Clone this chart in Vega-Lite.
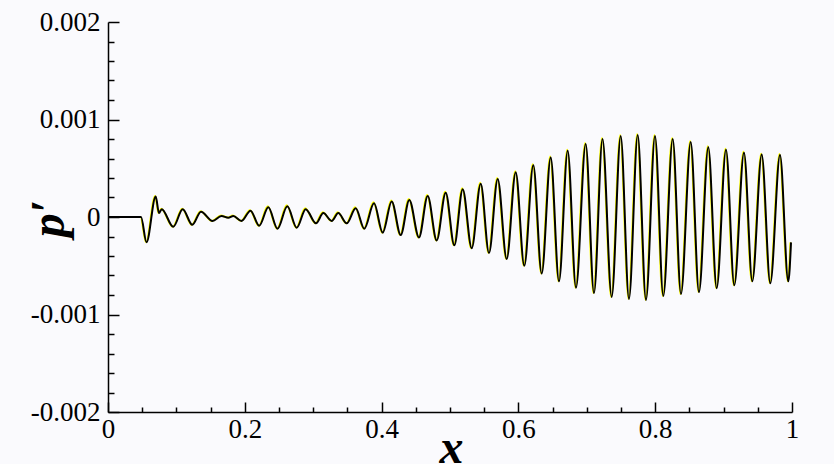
{
  "$schema": "https://vega.github.io/schema/vega-lite/v6.json",
  "autosize": {"type": "none"},
  "width": 684,
  "height": 390,
  "padding": {"left": 108, "top": 22, "right": 42, "bottom": 52},
  "background": "#fafafd",
  "config": {"view": {"stroke": null}},
  "datasets": {
    "yellow": [
      {"x": 0, "p": 0}, {"x": 0.0475, "p": 0}, {"x": 0.0555, "p": -0.00026}, {"x": 0.0689, "p": 0.000215},
      {"x": 0.0738, "p": 0.00004}, {"x": 0.0777, "p": 0.000085}, {"x": 0.0947, "p": -0.0001}, {"x": 0.1084, "p": 0.000085},
      {"x": 0.1225, "p": -0.00008}, {"x": 0.1352, "p": 0.00006}, {"x": 0.1520, "p": -0.00004}, {"x": 0.1651, "p": 0.000015},
      {"x": 0.1751, "p": -0.000005}, {"x": 0.1824, "p": 0.000015}, {"x": 0.1944, "p": -0.00004}, {"x": 0.2075, "p": 0.00007},
      {"x": 0.2203, "p": -0.00009}, {"x": 0.2336, "p": 0.00011}, {"x": 0.2470, "p": -0.00012}, {"x": 0.2613, "p": 0.00012},
      {"x": 0.2751, "p": -0.00011}, {"x": 0.2882, "p": 0.00009}, {"x": 0.3033, "p": -0.000065}, {"x": 0.3140, "p": 0.00005},
      {"x": 0.3263, "p": -0.00004}, {"x": 0.3359, "p": 0.00005}, {"x": 0.3482, "p": -0.000065}, {"x": 0.3613, "p": 0.0001},
      {"x": 0.3739, "p": -0.00012}, {"x": 0.3881, "p": 0.00015}, {"x": 0.4008, "p": -0.00016}, {"x": 0.4140, "p": 0.00017},
      {"x": 0.4271, "p": -0.000185}, {"x": 0.4397, "p": 0.000185}, {"x": 0.4539, "p": -0.00021}, {"x": 0.4666, "p": 0.000225},
      {"x": 0.4798, "p": -0.00024}, {"x": 0.4929, "p": 0.00026}, {"x": 0.5055, "p": -0.00029}, {"x": 0.5178, "p": 0.000295},
      {"x": 0.5309, "p": -0.00032}, {"x": 0.5441, "p": 0.00035}, {"x": 0.5562, "p": -0.00037}, {"x": 0.5689, "p": 0.0004},
      {"x": 0.5821, "p": -0.00043}, {"x": 0.5953, "p": 0.00047}, {"x": 0.6078, "p": -0.0005}, {"x": 0.6210, "p": 0.00054},
      {"x": 0.6333, "p": -0.00058}, {"x": 0.6464, "p": 0.00062}, {"x": 0.6586, "p": -0.00066}, {"x": 0.6713, "p": 0.00069},
      {"x": 0.6834, "p": -0.000725}, {"x": 0.6976, "p": 0.00076}, {"x": 0.7097, "p": -0.00078}, {"x": 0.7222, "p": 0.00081},
      {"x": 0.7356, "p": -0.00082}, {"x": 0.7488, "p": 0.00084}, {"x": 0.7609, "p": -0.00084}, {"x": 0.7736, "p": 0.00085},
      {"x": 0.7858, "p": -0.00085}, {"x": 0.7989, "p": 0.00084}, {"x": 0.8110, "p": -0.00081}, {"x": 0.8248, "p": 0.00081},
      {"x": 0.8369, "p": -0.00079}, {"x": 0.8511, "p": 0.00078}, {"x": 0.8632, "p": -0.00077}, {"x": 0.8768, "p": 0.000725},
      {"x": 0.8891, "p": -0.00073}, {"x": 0.9027, "p": 0.0007}, {"x": 0.9148, "p": -0.0007}, {"x": 0.9290, "p": 0.00067},
      {"x": 0.9412, "p": -0.00066}, {"x": 0.9549, "p": 0.00065}, {"x": 0.9675, "p": -0.00068}, {"x": 0.9817, "p": 0.000645},
      {"x": 0.9938, "p": -0.00066}, {"x": 0.9977, "p": -0.00026}
    ],
    "black": [
      {"x": 0, "p": 0}, {"x": 0.04825, "p": 0}, {"x": 0.05629, "p": -0.00026}, {"x": 0.06974, "p": 0.00021},
      {"x": 0.07456, "p": 0.00004}, {"x": 0.07851, "p": 0.00008}, {"x": 0.09547, "p": -0.0001}, {"x": 0.10921, "p": 0.00008},
      {"x": 0.12325, "p": -0.00008}, {"x": 0.13596, "p": 0.000055}, {"x": 0.15278, "p": -0.00004}, {"x": 0.16594, "p": 0.00001},
      {"x": 0.17588, "p": -0.000007}, {"x": 0.18319, "p": 0.00001}, {"x": 0.19518, "p": -0.00004}, {"x": 0.20833, "p": 0.000065},
      {"x": 0.22105, "p": -0.00009}, {"x": 0.23436, "p": 0.0001}, {"x": 0.24781, "p": -0.00012}, {"x": 0.26213, "p": 0.00011},
      {"x": 0.27588, "p": -0.00011}, {"x": 0.28904, "p": 0.00008}, {"x": 0.30409, "p": -0.000065}, {"x": 0.31477, "p": 0.00004},
      {"x": 0.32705, "p": -0.00004}, {"x": 0.33670, "p": 0.00004}, {"x": 0.34898, "p": -0.000065}, {"x": 0.36213, "p": 0.00009},
      {"x": 0.37471, "p": -0.00012}, {"x": 0.38889, "p": 0.00014}, {"x": 0.40161, "p": -0.00016}, {"x": 0.41477, "p": 0.00016},
      {"x": 0.42792, "p": -0.000185}, {"x": 0.44050, "p": 0.000175}, {"x": 0.45468, "p": -0.00021}, {"x": 0.46740, "p": 0.000215},
      {"x": 0.48055, "p": -0.00024}, {"x": 0.49371, "p": 0.00025}, {"x": 0.50629, "p": -0.00029}, {"x": 0.51857, "p": 0.000285},
      {"x": 0.53173, "p": -0.00032}, {"x": 0.54488, "p": 0.00034}, {"x": 0.55702, "p": -0.00037}, {"x": 0.56974, "p": 0.00039},
      {"x": 0.58289, "p": -0.00043}, {"x": 0.59605, "p": 0.00046}, {"x": 0.60863, "p": -0.0005}, {"x": 0.62178, "p": 0.00053},
      {"x": 0.63406, "p": -0.00058}, {"x": 0.64722, "p": 0.00061}, {"x": 0.65936, "p": -0.00066}, {"x": 0.67208, "p": 0.00068},
      {"x": 0.68421, "p": -0.000725}, {"x": 0.69839, "p": 0.00075}, {"x": 0.71053, "p": -0.00078}, {"x": 0.72295, "p": 0.0008},
      {"x": 0.73640, "p": -0.00082}, {"x": 0.74956, "p": 0.00083}, {"x": 0.76170, "p": -0.00084}, {"x": 0.77442, "p": 0.00084},
      {"x": 0.78655, "p": -0.00085}, {"x": 0.79971, "p": 0.00083}, {"x": 0.81184, "p": -0.00081}, {"x": 0.82558, "p": 0.0008},
      {"x": 0.83772, "p": -0.00079}, {"x": 0.85190, "p": 0.00077}, {"x": 0.86404, "p": -0.00077}, {"x": 0.87763, "p": 0.000715},
      {"x": 0.88991, "p": -0.00073}, {"x": 0.90351, "p": 0.00069}, {"x": 0.91564, "p": -0.0007}, {"x": 0.92982, "p": 0.00066},
      {"x": 0.94196, "p": -0.00066}, {"x": 0.95570, "p": 0.00064}, {"x": 0.96827, "p": -0.00068}, {"x": 0.98246, "p": 0.000635},
      {"x": 0.99459, "p": -0.00066}, {"x": 0.99854, "p": -0.00026}
    ]
  },
  "encoding": {
    "x": {
      "field": "x", "type": "quantitative",
      "scale": {"domain": [0, 1], "nice": false, "zero": false},
      "axis": {
        "title": "x",
        "values": [0, 0.05, 0.1, 0.15, 0.2, 0.25, 0.3, 0.35, 0.4, 0.45, 0.5, 0.55, 0.6, 0.65, 0.7, 0.75, 0.8, 0.85, 0.9, 0.95, 1],
        "labelExpr": "abs(datum.value*5 - round(datum.value*5)) < 0.001 ? (abs(datum.value) < 1e-9 ? '0' : abs(datum.value - 1) < 1e-9 ? '1' : format(datum.value, '.1f')) : ''",
        "tickSize": {"condition": {"test": "abs(datum.value*5 - round(datum.value*5)) < 0.001", "value": -10}, "value": -5},
        "labelFont": "Liberation Serif", "labelFontSize": 27, "labelColor": "#000",
        "labelPadding": 14, "labelFlush": false, "labelOverlap": false,
        "grid": false, "domainColor": "#000", "domainWidth": 1.5, "tickColor": "#000", "tickWidth": 1.5,
        "titleFont": "Liberation Serif", "titleFontSize": 48, "titleFontWeight": "bold", "titleFontStyle": "italic",
        "titleColor": "#000", "titleX": 343, "titleY": 50, "titleBaseline": "alphabetic", "titleAlign": "center"
      }
    },
    "y": {
      "field": "p", "type": "quantitative",
      "scale": {"domain": [-0.002, 0.002], "nice": false, "zero": false},
      "axis": {
        "title": "p′",
        "values": [-0.002, -0.0018, -0.0016, -0.0014, -0.0012, -0.001, -0.0008, -0.0006, -0.0004, -0.0002, 0, 0.0002, 0.0004, 0.0006, 0.0008, 0.001, 0.0012, 0.0014, 0.0016, 0.0018, 0.002],
        "labelExpr": "abs(datum.value*1000 - round(datum.value*1000)) < 0.001 ? (abs(datum.value) < 1e-9 ? '0' : (datum.value < 0 ? '-' : '') + format(abs(datum.value), '.3f')) : ''",
        "tickSize": {"condition": {"test": "abs(datum.value*1000 - round(datum.value*1000)) < 0.001", "value": -11}, "value": -6},
        "labelFont": "Liberation Serif", "labelFontSize": 27, "labelColor": "#000",
        "labelPadding": 19, "labelFlush": false, "labelOverlap": false,
        "grid": false, "domainColor": "#000", "domainWidth": 1.5, "tickColor": "#000", "tickWidth": 1.5,
        "titleFont": "Liberation Serif", "titleFontSize": 48, "titleFontWeight": "bold", "titleFontStyle": "italic",
        "titleColor": "#000", "titleX": -59, "titleY": 196, "titleAngle": -90, "titleBaseline": "middle", "titleAlign": "center"
      }
    }
  },
  "layer": [
    {
      "data": {"name": "yellow"},
      "mark": {"type": "line", "interpolate": "monotone", "color": "#ffff00", "strokeWidth": 2}
    },
    {
      "data": {"name": "black"},
      "mark": {"type": "line", "interpolate": "monotone", "color": "#000000", "strokeWidth": 2}
    }
  ]
}
